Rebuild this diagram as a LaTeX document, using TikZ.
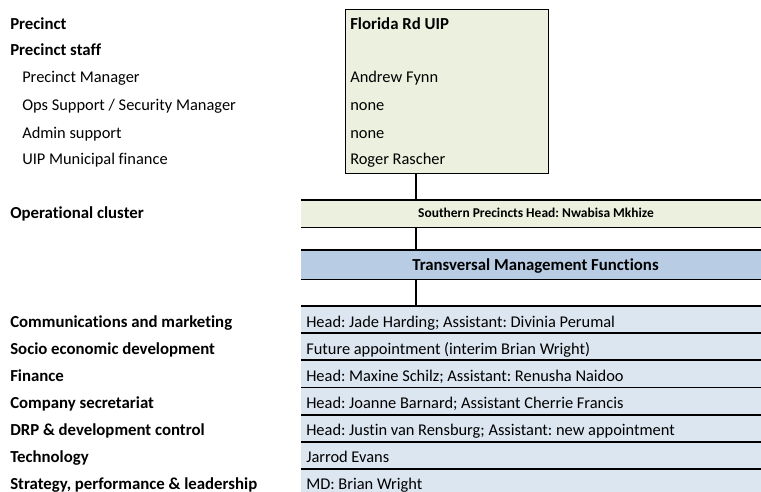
\documentclass[tikz,border=0pt]{standalone}
\usepackage{fontspec}
\setmainfont{Carlito}[Ligatures={NoCommon}]
\usetikzlibrary{calc}
\definecolor{olivebg}{HTML}{EBF1DE}
\definecolor{bluemid}{HTML}{B8CCE4}
\definecolor{bluelight}{HTML}{DCE6F1}
\tikzset{
  lbl/.style={anchor=base west, inner sep=0pt, font=\fontsize{12.3}{14}\selectfont},
  lblb/.style={lbl, font=\fontsize{12.6}{14}\selectfont\bfseries},
  bandfill/.style={inner sep=0pt, minimum width={460*0.75pt}},
  rowfill/.style={anchor=north west, inner sep=0pt, fill=bluelight, minimum width={460*0.75pt}, minimum height={27*0.75pt}},
  conn/.style={draw=black, line width=0.8pt},
  border/.style={draw=black, line width=0.8pt}
}
\begin{document}
\frenchspacing
\begin{tikzpicture}[x=0.75pt,y=-0.75pt]
\useasboundingbox (0,0) rectangle (761,492);
% top box
\node[draw=black, line width=0.8pt, fill=olivebg, anchor=north west, inner sep=0pt,
      minimum width={203*0.75pt}, minimum height={164*0.75pt}] (top) at (345,9) {};
\node[lblb] (p1) at (10,29.5) {Precinct};
\node[lblb] (p2) at (10,56) {Precinct staff};
\node[lbl] (p3) at (22,83) {Precinct Manager};
\node[lbl] (p4) at (22,110.5) {Ops Support / Security Manager};
\node[lbl] (p5) at (22,138) {Admin support};
\node[lbl] (p6) at (22,165) {UIP Municipal finance};
\node[lblb] (q1) at (350,29.5) {Florida Rd UIP};
\node[lbl] (q3) at (350,83) {Andrew Fynn};
\node[lbl] (q4) at (350,110.5) {none};
\node[lbl] (q5) at (350,138) {none};
\node[lbl] (q6) at (350,165) {Roger Rascher};
% operational cluster band
\node[bandfill, fill=olivebg, anchor=north west, minimum height={27*0.75pt}] (south) at (301,200) {};
\draw[border] (south.north west) -- (south.north east);
\draw[border] (south.south west) -- (south.south east);
\node[anchor=base, inner sep=0pt, font=\fontsize{10.1}{12}\selectfont\bfseries] (southt) at (536,217) {Southern Precincts Head: Nwabisa Mkhize};
\node[lblb] (oc) at (10,218) {Operational cluster};
% transversal band
\node[bandfill, fill=bluemid, anchor=north west, minimum height={29*0.75pt}] (trans) at (301,250) {};
\draw[border] (trans.north west) -- (trans.north east);
\draw[border] (trans.south west) -- (trans.south east);
\node[anchor=base, inner sep=0pt, font=\fontsize{12.6}{14}\selectfont\bfseries] (transt) at (535.5,270.5) {Transversal Management Functions};
% rows
\node[rowfill] (r1) at (301,306) {};
\node[rowfill] (r2) at (301,333) {};
\node[rowfill] (r3) at (301,360) {};
\node[rowfill] (r4) at (301,387.5) {};
\node[rowfill] (r5) at (301,415) {};
\node[rowfill] (r6) at (301,442) {};
\node[rowfill, minimum height={24*0.75pt}] (r7) at (301,469) {};
\foreach \r in {r1,r2,r3,r4,r5,r6,r7} {
  \draw[border] (\r.north west) -- (\r.north east);
}
% connectors
\coordinate (cx) at (416,0);
\draw[conn] (cx |- top.south) -- (cx |- south.north);
\draw[conn] (cx |- south.south) -- (cx |- trans.north);
\draw[conn] (cx |- trans.south) -- (cx |- r1.north);
% lower labels
\node[lblb] (l1) at (10,327) {Communications and marketing};
\node[lblb] (l2) at (10,354) {Socio economic development};
\node[lblb] (l3) at (10,381) {Finance};
\node[lblb] (l4) at (10,408) {Company secretariat};
\node[lblb] (l5) at (10,435.5) {DRP \& development control};
\node[lblb] (l6) at (10,462.5) {Technology};
\node[lblb] (l7) at (10,489.5) {Strategy, performance \& leadership};
\node[lbl] (t1) at (306,327) {Head: Jade Harding; Assistant: Divinia Perumal};
\node[lbl] (t2) at (306,354) {Future appointment (interim Brian Wright)};
\node[lbl] (t3) at (306,381) {Head: Maxine Schilz; Assistant: Renusha Naidoo};
\node[lbl] (t4) at (306,408) {Head: Joanne Barnard; Assistant Cherrie Francis};
\node[lbl] (t5) at (306,435.5) {Head: Justin van Rensburg; Assistant: new appointment};
\node[lbl] (t6) at (306,462.5) {Jarrod Evans};
\node[lbl] (t7) at (306,489.5) {MD: Brian Wright};
\end{tikzpicture}
\end{document}
